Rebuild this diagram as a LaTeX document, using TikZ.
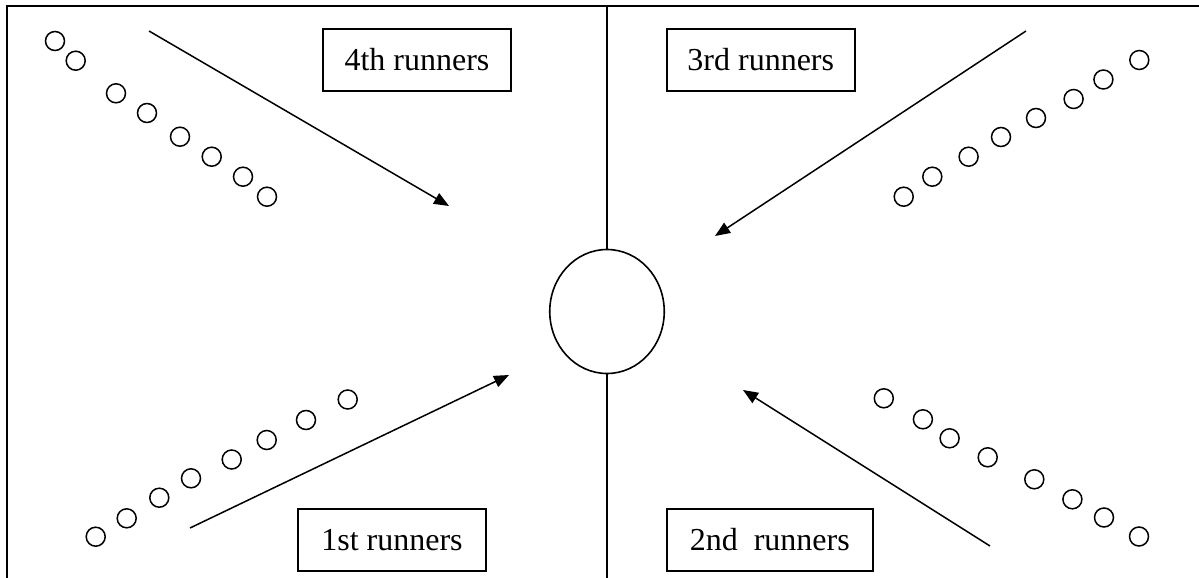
\documentclass[tikz,border=0pt]{standalone}
\usepackage{fontspec}
\setmainfont{Liberation Serif}
\usetikzlibrary{shapes.geometric,arrows.meta}

\begin{document}
\begin{tikzpicture}[x=1pt,y=-1pt,
  runner/.style={circle,draw,line width=1.5pt,minimum size=19pt,inner sep=0pt},
  tagbox/.style={draw,line width=2pt,anchor=north west,minimum height=62pt,
    inner sep=0pt,font=\fontsize{32}{38}\selectfont},
  run/.style={line width=1.5pt,-{Triangle[length=15pt,width=12pt]}},
  frame/.style={line width=2pt,line join=miter}]
\useasboundingbox (0,0) rectangle (1199,578);

% field outline (open at right and bottom)
\coordinate (fr) at (1199,6.5);
\coordinate (ftl) at (7,6.5);
\coordinate (fbl) at (7,578);
\draw[frame] (fr) -- (ftl) -- (fbl);

% centre circle and halfway line
\node[ellipse,draw,line width=1.6pt,minimum width=114.5pt,minimum height=124pt,inner sep=0pt]
  (goal) at (607,311.5) {};
\coordinate (midtop) at (607,6.5);
\coordinate (midbot) at (607,578);
\draw[line width=1.6pt] (midtop) -- (goal.north);
\draw[line width=1.6pt] (goal.south) -- (midbot);

% labels
\node[tagbox,minimum width=188pt] (lab4) at (322,28) {4th runners};
\node[tagbox,minimum width=188.5pt] (lab3) at (665.5,28) {3rd runners};
\node[tagbox,minimum width=188pt] (lab1) at (297,508) {1st runners};
\node[tagbox,minimum width=206.5pt] (lab2) at (665.5,508) {2nd\ \ runners\hspace{7pt}};

% queues of runners
\foreach \x/\y [count=\i] in {55/41,75.7/60.7,116/93.3,147/113,180/136.7,211.7/156.7,243/176.7,267/196.7}
  \node[runner] (q4-\i) at (\x,\y) {};
\foreach \x/\y [count=\i] in {903.7/196.7,932.3/176.7,968.6/156.7,1001/137,1036/118,1073.6/99,1103.4/79.5,1139.3/60}
  \node[runner] (q3-\i) at (\x,\y) {};
\foreach \x/\y [count=\i] in {95.7/536.7,126.7/518.3,159.3/497.7,191/478.3,231.7/459.5,266.7/440,306/420,347.7/399.5}
  \node[runner] (q1-\i) at (\x,\y) {};
\foreach \x/\y [count=\i] in {883.8/398.3,922.9/419.3,949.6/438.3,987.7/457.3,1034.3/479.3,1072.4/499.3,1104/517.5,1139/536.5}
  \node[runner] (q2-\i) at (\x,\y) {};

% running directions
\coordinate (s4) at (149,31);   \coordinate (t4) at (449,206);
\coordinate (s3) at (1026,31);  \coordinate (t3) at (715,236);
\coordinate (s1) at (190,528);  \coordinate (t1) at (509,375);
\coordinate (s2) at (990,546);  \coordinate (t2) at (743,390);
\draw[run] (s4) -- (t4);
\draw[run] (s3) -- (t3);
\draw[run] (s1) -- (t1);
\draw[run] (s2) -- (t2);
\end{tikzpicture}
\end{document}
